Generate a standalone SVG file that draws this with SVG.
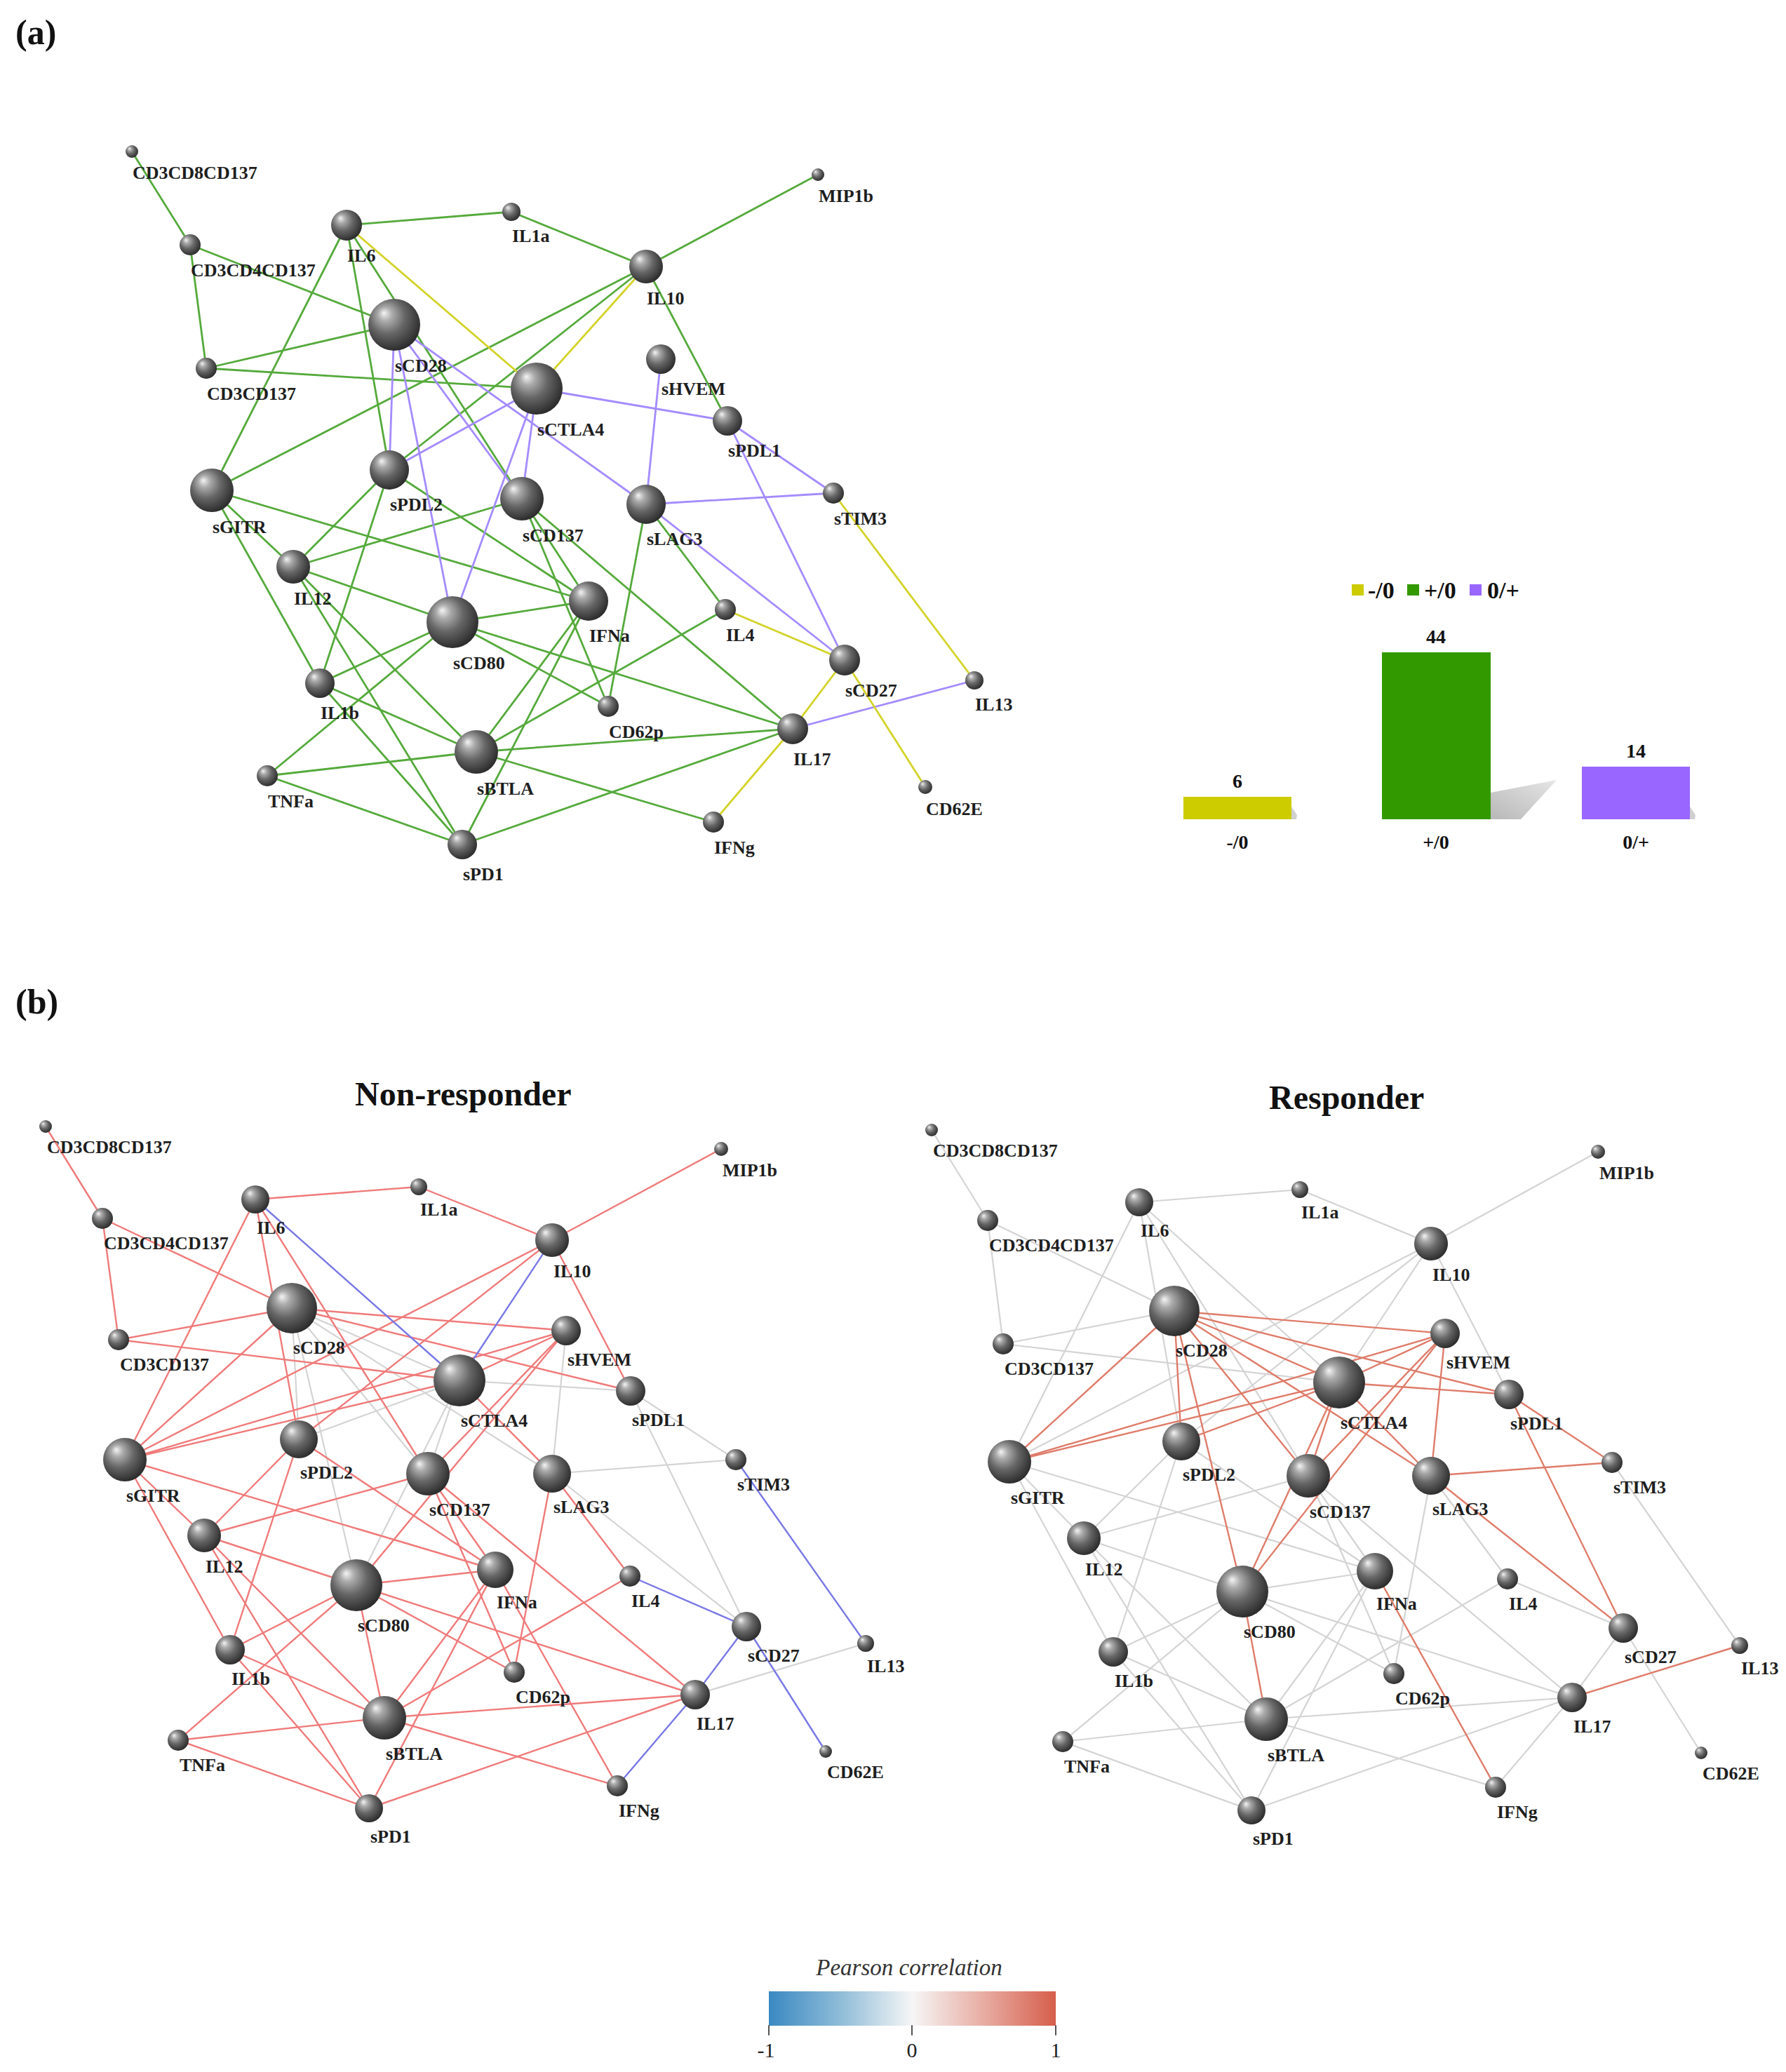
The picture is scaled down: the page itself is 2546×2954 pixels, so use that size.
<svg xmlns="http://www.w3.org/2000/svg" width="2546" height="2954" viewBox="0 0 2546 2954">
<defs>
<radialGradient id="sph" cx="0.42" cy="0.4" r="0.62" fx="0.3" fy="0.27">
<stop offset="0" stop-color="#f4f4f4"/><stop offset="0.22" stop-color="#ababab"/><stop offset="0.55" stop-color="#666"/><stop offset="1" stop-color="#2a2a2a"/>
</radialGradient>
<linearGradient id="cbar" x1="0" y1="0" x2="1" y2="0">
<stop offset="0" stop-color="#3a89c2"/><stop offset="0.25" stop-color="#8fbcd8"/><stop offset="0.5" stop-color="#f6f6f6"/><stop offset="0.75" stop-color="#e8aca2"/><stop offset="1" stop-color="#d65e4b"/>
</linearGradient>
<linearGradient id="shd" x1="0" y1="1" x2="1" y2="0">
<stop offset="0" stop-color="#b8b8b8"/><stop offset="1" stop-color="#e6e6e6"/>
</linearGradient>
<style>
line{fill:none;stroke-linecap:round}
.ga{stroke:#55aa3c;stroke-width:2.8}
.ya{stroke:#d3d32a;stroke-width:2.8}
.pa{stroke:#a58bff;stroke-width:2.8}
.rn{stroke:#f07a7a;stroke-width:2.4}
.bn{stroke:#7878e6;stroke-width:2.4}
.gr{stroke:#d4d4d4;stroke-width:2.2}
.rr{stroke:#df7c6a;stroke-width:2.4}
.nd{fill:url(#sph)}
.lb{font-family:"Liberation Serif","Times New Roman",serif;font-weight:bold;font-size:26px;fill:#1e1e1e}
.pl{font-family:"Liberation Serif","Times New Roman",serif;font-weight:bold;font-size:50px;fill:#111}
.tt{font-family:"Liberation Serif","Times New Roman",serif;font-weight:bold;font-size:48px;fill:#111}
.bv{font-family:"Liberation Serif","Times New Roman",serif;font-weight:bold;font-size:28px;fill:#111;text-anchor:middle}
.lg{font-family:"Liberation Serif","Times New Roman",serif;font-weight:bold;font-size:34px;fill:#111}
.cb{font-family:"Liberation Serif","Times New Roman",serif;font-size:30px;fill:#222;text-anchor:middle}
</style>
</defs>
<rect width="2546" height="2954" fill="#fff"/>
<text class="pl" x="22" y="63">(a)</text>
<text class="pl" x="22" y="1445">(b)</text>

<!-- Panel (a) connectors -->
<g id="a-edges">
<line class="ga" x1="188" y1="216" x2="271" y2="349"/>
<line class="ga" x1="271" y1="349" x2="294" y2="525"/>
<line class="ga" x1="271" y1="349" x2="562" y2="463"/>
<line class="ga" x1="294" y1="525" x2="562" y2="463"/>
<line class="ga" x1="294" y1="525" x2="765" y2="554"/>
<line class="ga" x1="494" y1="321" x2="729" y2="302"/>
<line class="ga" x1="729" y1="302" x2="921" y2="380"/>
<line class="ga" x1="921" y1="380" x2="1166" y2="249"/>
<line class="ga" x1="921" y1="380" x2="1037" y2="600"/>
<line class="ga" x1="921" y1="380" x2="302" y2="699"/>
<line class="ga" x1="921" y1="380" x2="555" y2="670"/>
<line class="ga" x1="494" y1="321" x2="302" y2="699"/>
<line class="ga" x1="494" y1="321" x2="555" y2="670"/>
<line class="ga" x1="494" y1="321" x2="744" y2="711"/>
<line class="ga" x1="302" y1="699" x2="418" y2="808"/>
<line class="ga" x1="302" y1="699" x2="456" y2="974"/>
<line class="ga" x1="302" y1="699" x2="839" y2="857"/>
<line class="ga" x1="555" y1="670" x2="418" y2="808"/>
<line class="ga" x1="555" y1="670" x2="456" y2="974"/>
<line class="ga" x1="555" y1="670" x2="839" y2="857"/>
<line class="ga" x1="744" y1="711" x2="418" y2="808"/>
<line class="ga" x1="418" y1="808" x2="645" y2="887"/>
<line class="ga" x1="418" y1="808" x2="679" y2="1072"/>
<line class="ga" x1="418" y1="808" x2="659" y2="1204"/>
<line class="ga" x1="456" y1="974" x2="645" y2="887"/>
<line class="ga" x1="456" y1="974" x2="679" y2="1072"/>
<line class="ga" x1="456" y1="974" x2="659" y2="1204"/>
<line class="ga" x1="381" y1="1106" x2="645" y2="887"/>
<line class="ga" x1="381" y1="1106" x2="679" y2="1072"/>
<line class="ga" x1="381" y1="1106" x2="659" y2="1204"/>
<line class="ga" x1="645" y1="887" x2="839" y2="857"/>
<line class="ga" x1="645" y1="887" x2="1130" y2="1039"/>
<line class="ga" x1="645" y1="887" x2="867" y2="1007"/>
<line class="ga" x1="679" y1="1072" x2="1130" y2="1039"/>
<line class="ga" x1="679" y1="1072" x2="1017" y2="1172"/>
<line class="ga" x1="659" y1="1204" x2="1130" y2="1039"/>
<line class="ga" x1="659" y1="1204" x2="839" y2="857"/>
<line class="ga" x1="679" y1="1072" x2="839" y2="857"/>
<line class="ga" x1="679" y1="1072" x2="1034" y2="869"/>
<line class="ga" x1="921" y1="719" x2="1034" y2="869"/>
<line class="ga" x1="921" y1="719" x2="867" y2="1007"/>
<line class="ga" x1="744" y1="711" x2="1130" y2="1039"/>
<line class="ga" x1="744" y1="711" x2="867" y2="1007"/>
<line class="ga" x1="744" y1="711" x2="839" y2="857"/>
<line class="pa" x1="562" y1="463" x2="555" y2="670"/>
<line class="pa" x1="562" y1="463" x2="645" y2="887"/>
<line class="pa" x1="562" y1="463" x2="744" y2="711"/>
<line class="pa" x1="562" y1="463" x2="921" y2="719"/>
<line class="pa" x1="765" y1="554" x2="555" y2="670"/>
<line class="pa" x1="765" y1="554" x2="645" y2="887"/>
<line class="pa" x1="765" y1="554" x2="744" y2="711"/>
<line class="pa" x1="765" y1="554" x2="1037" y2="600"/>
<line class="pa" x1="942" y1="512" x2="921" y2="719"/>
<line class="pa" x1="921" y1="719" x2="1188" y2="703"/>
<line class="pa" x1="1037" y1="600" x2="1188" y2="703"/>
<line class="pa" x1="1037" y1="600" x2="1204" y2="941"/>
<line class="pa" x1="921" y1="719" x2="1204" y2="941"/>
<line class="pa" x1="1130" y1="1039" x2="1389" y2="970"/>
<line class="ya" x1="494" y1="321" x2="765" y2="554"/>
<line class="ya" x1="921" y1="380" x2="765" y2="554"/>
<line class="ya" x1="1188" y1="703" x2="1389" y2="970"/>
<line class="ya" x1="1034" y1="869" x2="1204" y2="941"/>
<line class="ya" x1="1204" y1="941" x2="1130" y2="1039"/>
<line class="ya" x1="1204" y1="941" x2="1319" y2="1122"/>
<line class="ya" x1="1130" y1="1039" x2="1017" y2="1172"/>
</g>

<!-- Panel (a) nodes -->
<g id="a-CD3CD8CD137"><circle class="nd" cx="188" cy="216" r="9"/><text class="lb" x="189" y="255">CD3CD8CD137</text></g>
<g id="a-CD3CD4CD137"><circle class="nd" cx="271" cy="349" r="15"/><text class="lb" x="272" y="394">CD3CD4CD137</text></g>
<g id="a-IL6"><circle class="nd" cx="494" cy="321" r="22"/><text class="lb" x="495" y="373">IL6</text></g>
<g id="a-IL1a"><circle class="nd" cx="729" cy="302" r="13"/><text class="lb" x="730" y="345">IL1a</text></g>
<g id="a-IL10"><circle class="nd" cx="921" cy="380" r="24"/><text class="lb" x="922" y="434">IL10</text></g>
<g id="a-MIP1b"><circle class="nd" cx="1166" cy="249" r="9"/><text class="lb" x="1167" y="288">MIP1b</text></g>
<g id="a-sCD28"><circle class="nd" cx="562" cy="463" r="37"/><text class="lb" x="563" y="530">sCD28</text></g>
<g id="a-CD3CD137"><circle class="nd" cx="294" cy="525" r="15"/><text class="lb" x="295" y="570">CD3CD137</text></g>
<g id="a-sHVEM"><circle class="nd" cx="942" cy="512" r="21"/><text class="lb" x="943" y="563">sHVEM</text></g>
<g id="a-sCTLA4"><circle class="nd" cx="765" cy="554" r="37"/><text class="lb" x="766" y="621">sCTLA4</text></g>
<g id="a-sPDL1"><circle class="nd" cx="1037" cy="600" r="21"/><text class="lb" x="1038" y="651">sPDL1</text></g>
<g id="a-sGITR"><circle class="nd" cx="302" cy="699" r="31"/><text class="lb" x="303" y="760">sGITR</text></g>
<g id="a-sPDL2"><circle class="nd" cx="555" cy="670" r="28"/><text class="lb" x="556" y="728">sPDL2</text></g>
<g id="a-sCD137"><circle class="nd" cx="744" cy="711" r="31"/><text class="lb" x="745" y="772">sCD137</text></g>
<g id="a-sLAG3"><circle class="nd" cx="921" cy="719" r="28"/><text class="lb" x="922" y="777">sLAG3</text></g>
<g id="a-sTIM3"><circle class="nd" cx="1188" cy="703" r="15"/><text class="lb" x="1189" y="748">sTIM3</text></g>
<g id="a-IL12"><circle class="nd" cx="418" cy="808" r="24"/><text class="lb" x="419" y="862">IL12</text></g>
<g id="a-sCD80"><circle class="nd" cx="645" cy="887" r="37"/><text class="lb" x="646" y="954">sCD80</text></g>
<g id="a-IFNa"><circle class="nd" cx="839" cy="857" r="28"/><text class="lb" x="840" y="915">IFNa</text></g>
<g id="a-IL4"><circle class="nd" cx="1034" cy="869" r="15"/><text class="lb" x="1035" y="914">IL4</text></g>
<g id="a-sCD27"><circle class="nd" cx="1204" cy="941" r="22"/><text class="lb" x="1205" y="993">sCD27</text></g>
<g id="a-IL13"><circle class="nd" cx="1389" cy="970" r="13"/><text class="lb" x="1390" y="1013">IL13</text></g>
<g id="a-IL1b"><circle class="nd" cx="456" cy="974" r="21"/><text class="lb" x="457" y="1025">IL1b</text></g>
<g id="a-CD62p"><circle class="nd" cx="867" cy="1007" r="15"/><text class="lb" x="868" y="1052">CD62p</text></g>
<g id="a-IL17"><circle class="nd" cx="1130" cy="1039" r="22"/><text class="lb" x="1131" y="1091">IL17</text></g>
<g id="a-TNFa"><circle class="nd" cx="381" cy="1106" r="15"/><text class="lb" x="382" y="1151">TNFa</text></g>
<g id="a-sBTLA"><circle class="nd" cx="679" cy="1072" r="31"/><text class="lb" x="680" y="1133">sBTLA</text></g>
<g id="a-IFNg"><circle class="nd" cx="1017" cy="1172" r="15"/><text class="lb" x="1018" y="1217">IFNg</text></g>
<g id="a-sPD1"><circle class="nd" cx="659" cy="1204" r="21"/><text class="lb" x="660" y="1255">sPD1</text></g>
<g id="a-CD62E"><circle class="nd" cx="1319" cy="1122" r="10"/><text class="lb" x="1320" y="1162">CD62E</text></g>

<!-- Panel (a) bar chart -->
<g id="a-legend">
<rect x="1927" y="833" width="17" height="16" fill="#cccc00"/><text class="lg" x="1950" y="853">-/0</text>
<rect x="2006" y="833" width="17" height="16" fill="#339900"/><text class="lg" x="2030" y="853">+/0</text>
<rect x="2095" y="833" width="17" height="16" fill="#9966ff"/><text class="lg" x="2120" y="853">0/+</text>
</g>
<g id="a-bars">
<polygon points="2125,1168 2125,1130 2219,1112 2168,1168" fill="url(#shd)"/>
<polygon points="1841,1168 1841,1150 1849,1162 1848,1168" fill="#d0d0d0"/>
<polygon points="2409,1168 2409,1150 2417,1162 2416,1168" fill="#d0d0d0"/>
<rect x="1687" y="1136" width="154" height="32" fill="#cccc00"/>
<rect x="1970" y="930" width="155" height="238" fill="#339900"/>
<rect x="2255" y="1093" width="154" height="75" fill="#9966ff"/>
<text class="bv" x="1764" y="1123">6</text>
<text class="bv" x="2047" y="917">44</text>
<text class="bv" x="2332" y="1080">14</text>
<text class="bv" x="1764" y="1210">-/0</text>
<text class="bv" x="2047" y="1210">+/0</text>
<text class="bv" x="2332" y="1210">0/+</text>
</g>

<!-- Panel (b) titles -->
<text class="tt" x="506" y="1576">Non-responder</text>
<text class="tt" x="1809" y="1581">Responder</text>

<!-- Panel (b) Non-responder connectors -->
<g id="nr-edges">
<line class="gr" x1="416" y1="1865" x2="426" y2="2052"/>
<line class="gr" x1="416" y1="1865" x2="508" y2="2260"/>
<line class="gr" x1="416" y1="1865" x2="610" y2="2101"/>
<line class="gr" x1="416" y1="1865" x2="787" y2="2101"/>
<line class="gr" x1="655" y1="1968" x2="426" y2="2052"/>
<line class="gr" x1="655" y1="1968" x2="508" y2="2260"/>
<line class="gr" x1="655" y1="1968" x2="610" y2="2101"/>
<line class="gr" x1="655" y1="1968" x2="899" y2="1983"/>
<line class="gr" x1="807" y1="1897" x2="787" y2="2101"/>
<line class="gr" x1="787" y1="2101" x2="1049" y2="2081"/>
<line class="gr" x1="899" y1="1983" x2="1049" y2="2081"/>
<line class="gr" x1="899" y1="1983" x2="1064" y2="2319"/>
<line class="gr" x1="787" y1="2101" x2="1064" y2="2319"/>
<line class="gr" x1="991" y1="2416" x2="1234" y2="2343"/>
<line class="gr" x1="416" y1="1865" x2="655" y2="1968"/>
<line class="rn" x1="65" y1="1606" x2="146" y2="1737"/>
<line class="rn" x1="146" y1="1737" x2="169" y2="1910"/>
<line class="rn" x1="146" y1="1737" x2="416" y2="1865"/>
<line class="rn" x1="169" y1="1910" x2="416" y2="1865"/>
<line class="rn" x1="169" y1="1910" x2="655" y2="1968"/>
<line class="rn" x1="364" y1="1710" x2="597" y2="1692"/>
<line class="rn" x1="597" y1="1692" x2="787" y2="1768"/>
<line class="rn" x1="787" y1="1768" x2="1028" y2="1638"/>
<line class="rn" x1="787" y1="1768" x2="899" y2="1983"/>
<line class="rn" x1="787" y1="1768" x2="178" y2="2081"/>
<line class="rn" x1="787" y1="1768" x2="426" y2="2052"/>
<line class="rn" x1="364" y1="1710" x2="178" y2="2081"/>
<line class="rn" x1="364" y1="1710" x2="426" y2="2052"/>
<line class="rn" x1="364" y1="1710" x2="610" y2="2101"/>
<line class="rn" x1="178" y1="2081" x2="291" y2="2189"/>
<line class="rn" x1="178" y1="2081" x2="328" y2="2352"/>
<line class="rn" x1="178" y1="2081" x2="706" y2="2238"/>
<line class="rn" x1="426" y1="2052" x2="291" y2="2189"/>
<line class="rn" x1="426" y1="2052" x2="328" y2="2352"/>
<line class="rn" x1="426" y1="2052" x2="706" y2="2238"/>
<line class="rn" x1="610" y1="2101" x2="291" y2="2189"/>
<line class="rn" x1="291" y1="2189" x2="508" y2="2260"/>
<line class="rn" x1="291" y1="2189" x2="548" y2="2449"/>
<line class="rn" x1="291" y1="2189" x2="526" y2="2578"/>
<line class="rn" x1="328" y1="2352" x2="508" y2="2260"/>
<line class="rn" x1="328" y1="2352" x2="548" y2="2449"/>
<line class="rn" x1="328" y1="2352" x2="526" y2="2578"/>
<line class="rn" x1="254" y1="2481" x2="508" y2="2260"/>
<line class="rn" x1="254" y1="2481" x2="548" y2="2449"/>
<line class="rn" x1="254" y1="2481" x2="526" y2="2578"/>
<line class="rn" x1="508" y1="2260" x2="706" y2="2238"/>
<line class="rn" x1="508" y1="2260" x2="991" y2="2416"/>
<line class="rn" x1="508" y1="2260" x2="733" y2="2384"/>
<line class="rn" x1="548" y1="2449" x2="991" y2="2416"/>
<line class="rn" x1="548" y1="2449" x2="880" y2="2546"/>
<line class="rn" x1="526" y1="2578" x2="991" y2="2416"/>
<line class="rn" x1="526" y1="2578" x2="706" y2="2238"/>
<line class="rn" x1="548" y1="2449" x2="706" y2="2238"/>
<line class="rn" x1="548" y1="2449" x2="898" y2="2247"/>
<line class="rn" x1="787" y1="2101" x2="898" y2="2247"/>
<line class="rn" x1="787" y1="2101" x2="733" y2="2384"/>
<line class="rn" x1="610" y1="2101" x2="991" y2="2416"/>
<line class="rn" x1="610" y1="2101" x2="733" y2="2384"/>
<line class="rn" x1="610" y1="2101" x2="706" y2="2238"/>
<line class="rn" x1="178" y1="2081" x2="416" y2="1865"/>
<line class="rn" x1="178" y1="2081" x2="807" y2="1897"/>
<line class="rn" x1="178" y1="2081" x2="655" y2="1968"/>
<line class="rn" x1="416" y1="1865" x2="807" y2="1897"/>
<line class="rn" x1="416" y1="1865" x2="899" y2="1983"/>
<line class="rn" x1="655" y1="1968" x2="807" y2="1897"/>
<line class="rn" x1="610" y1="2101" x2="807" y2="1897"/>
<line class="rn" x1="508" y1="2260" x2="807" y2="1897"/>
<line class="rn" x1="508" y1="2260" x2="548" y2="2449"/>
<line class="rn" x1="706" y1="2238" x2="880" y2="2546"/>
<line class="rn" x1="655" y1="1968" x2="787" y2="2101"/>
<line class="bn" x1="364" y1="1710" x2="655" y2="1968"/>
<line class="bn" x1="787" y1="1768" x2="655" y2="1968"/>
<line class="bn" x1="1049" y1="2081" x2="1234" y2="2343"/>
<line class="bn" x1="898" y1="2247" x2="1064" y2="2319"/>
<line class="bn" x1="1064" y1="2319" x2="991" y2="2416"/>
<line class="bn" x1="1064" y1="2319" x2="1177" y2="2497"/>
<line class="bn" x1="991" y1="2416" x2="880" y2="2546"/>
</g>

<!-- Panel (b) Non-responder nodes -->
<g id="nr-CD3CD8CD137"><circle class="nd" cx="65" cy="1606" r="9"/><text class="lb" x="67" y="1644">CD3CD8CD137</text></g>
<g id="nr-CD3CD4CD137"><circle class="nd" cx="146" cy="1737" r="15"/><text class="lb" x="148" y="1781">CD3CD4CD137</text></g>
<g id="nr-IL6"><circle class="nd" cx="364" cy="1710" r="20"/><text class="lb" x="366" y="1759">IL6</text></g>
<g id="nr-IL1a"><circle class="nd" cx="597" cy="1692" r="12"/><text class="lb" x="599" y="1733">IL1a</text></g>
<g id="nr-IL10"><circle class="nd" cx="787" cy="1768" r="24"/><text class="lb" x="789" y="1821">IL10</text></g>
<g id="nr-MIP1b"><circle class="nd" cx="1028" cy="1638" r="10"/><text class="lb" x="1030" y="1677">MIP1b</text></g>
<g id="nr-sCD28"><circle class="nd" cx="416" cy="1865" r="36"/><text class="lb" x="418" y="1930">sCD28</text></g>
<g id="nr-CD3CD137"><circle class="nd" cx="169" cy="1910" r="15"/><text class="lb" x="171" y="1954">CD3CD137</text></g>
<g id="nr-sHVEM"><circle class="nd" cx="807" cy="1897" r="21"/><text class="lb" x="809" y="1947">sHVEM</text></g>
<g id="nr-sCTLA4"><circle class="nd" cx="655" cy="1968" r="37"/><text class="lb" x="657" y="2034">sCTLA4</text></g>
<g id="nr-sPDL1"><circle class="nd" cx="899" cy="1983" r="21"/><text class="lb" x="901" y="2033">sPDL1</text></g>
<g id="nr-sGITR"><circle class="nd" cx="178" cy="2081" r="31"/><text class="lb" x="180" y="2141">sGITR</text></g>
<g id="nr-sPDL2"><circle class="nd" cx="426" cy="2052" r="27"/><text class="lb" x="428" y="2108">sPDL2</text></g>
<g id="nr-sCD137"><circle class="nd" cx="610" cy="2101" r="31"/><text class="lb" x="612" y="2161">sCD137</text></g>
<g id="nr-sLAG3"><circle class="nd" cx="787" cy="2101" r="27"/><text class="lb" x="789" y="2157">sLAG3</text></g>
<g id="nr-sTIM3"><circle class="nd" cx="1049" cy="2081" r="15"/><text class="lb" x="1051" y="2125">sTIM3</text></g>
<g id="nr-IL12"><circle class="nd" cx="291" cy="2189" r="24"/><text class="lb" x="293" y="2242">IL12</text></g>
<g id="nr-sCD80"><circle class="nd" cx="508" cy="2260" r="37"/><text class="lb" x="510" y="2326">sCD80</text></g>
<g id="nr-IFNa"><circle class="nd" cx="706" cy="2238" r="26"/><text class="lb" x="708" y="2293">IFNa</text></g>
<g id="nr-IL4"><circle class="nd" cx="898" cy="2247" r="15"/><text class="lb" x="900" y="2291">IL4</text></g>
<g id="nr-sCD27"><circle class="nd" cx="1064" cy="2319" r="21"/><text class="lb" x="1066" y="2369">sCD27</text></g>
<g id="nr-IL13"><circle class="nd" cx="1234" cy="2343" r="12"/><text class="lb" x="1236" y="2384">IL13</text></g>
<g id="nr-IL1b"><circle class="nd" cx="328" cy="2352" r="21"/><text class="lb" x="330" y="2402">IL1b</text></g>
<g id="nr-CD62p"><circle class="nd" cx="733" cy="2384" r="15"/><text class="lb" x="735" y="2428">CD62p</text></g>
<g id="nr-IL17"><circle class="nd" cx="991" cy="2416" r="21"/><text class="lb" x="993" y="2466">IL17</text></g>
<g id="nr-TNFa"><circle class="nd" cx="254" cy="2481" r="15"/><text class="lb" x="256" y="2525">TNFa</text></g>
<g id="nr-sBTLA"><circle class="nd" cx="548" cy="2449" r="31"/><text class="lb" x="550" y="2509">sBTLA</text></g>
<g id="nr-IFNg"><circle class="nd" cx="880" cy="2546" r="15"/><text class="lb" x="882" y="2590">IFNg</text></g>
<g id="nr-sPD1"><circle class="nd" cx="526" cy="2578" r="20"/><text class="lb" x="528" y="2627">sPD1</text></g>
<g id="nr-CD62E"><circle class="nd" cx="1177" cy="2497" r="9"/><text class="lb" x="1179" y="2535">CD62E</text></g>

<!-- Panel (b) Responder connectors -->
<g id="r-edges">
<line class="gr" x1="1328" y1="1611" x2="1408" y2="1740"/>
<line class="gr" x1="1408" y1="1740" x2="1430" y2="1916"/>
<line class="gr" x1="1408" y1="1740" x2="1674" y2="1869"/>
<line class="gr" x1="1430" y1="1916" x2="1674" y2="1869"/>
<line class="gr" x1="1430" y1="1916" x2="1909" y2="1971"/>
<line class="gr" x1="1624" y1="1714" x2="1853" y2="1696"/>
<line class="gr" x1="1853" y1="1696" x2="2040" y2="1773"/>
<line class="gr" x1="2040" y1="1773" x2="2278" y2="1642"/>
<line class="gr" x1="2040" y1="1773" x2="2151" y2="1988"/>
<line class="gr" x1="2040" y1="1773" x2="1439" y2="2084"/>
<line class="gr" x1="2040" y1="1773" x2="1684" y2="2055"/>
<line class="gr" x1="1624" y1="1714" x2="1439" y2="2084"/>
<line class="gr" x1="1624" y1="1714" x2="1684" y2="2055"/>
<line class="gr" x1="1624" y1="1714" x2="1865" y2="2104"/>
<line class="gr" x1="1439" y1="2084" x2="1545" y2="2193"/>
<line class="gr" x1="1439" y1="2084" x2="1587" y2="2355"/>
<line class="gr" x1="1439" y1="2084" x2="1960" y2="2240"/>
<line class="gr" x1="1684" y1="2055" x2="1545" y2="2193"/>
<line class="gr" x1="1684" y1="2055" x2="1587" y2="2355"/>
<line class="gr" x1="1684" y1="2055" x2="1960" y2="2240"/>
<line class="gr" x1="1865" y1="2104" x2="1545" y2="2193"/>
<line class="gr" x1="1545" y1="2193" x2="1771" y2="2269"/>
<line class="gr" x1="1545" y1="2193" x2="1805" y2="2451"/>
<line class="gr" x1="1545" y1="2193" x2="1784" y2="2581"/>
<line class="gr" x1="1587" y1="2355" x2="1771" y2="2269"/>
<line class="gr" x1="1587" y1="2355" x2="1805" y2="2451"/>
<line class="gr" x1="1587" y1="2355" x2="1784" y2="2581"/>
<line class="gr" x1="1515" y1="2483" x2="1771" y2="2269"/>
<line class="gr" x1="1515" y1="2483" x2="1805" y2="2451"/>
<line class="gr" x1="1515" y1="2483" x2="1784" y2="2581"/>
<line class="gr" x1="1771" y1="2269" x2="1960" y2="2240"/>
<line class="gr" x1="1771" y1="2269" x2="2241" y2="2420"/>
<line class="gr" x1="1771" y1="2269" x2="1987" y2="2386"/>
<line class="gr" x1="1805" y1="2451" x2="2241" y2="2420"/>
<line class="gr" x1="1805" y1="2451" x2="2132" y2="2548"/>
<line class="gr" x1="1784" y1="2581" x2="2241" y2="2420"/>
<line class="gr" x1="1784" y1="2581" x2="1960" y2="2240"/>
<line class="gr" x1="1805" y1="2451" x2="1960" y2="2240"/>
<line class="gr" x1="1805" y1="2451" x2="2149" y2="2251"/>
<line class="gr" x1="2040" y1="2104" x2="2149" y2="2251"/>
<line class="gr" x1="2040" y1="2104" x2="1987" y2="2386"/>
<line class="gr" x1="1865" y1="2104" x2="2241" y2="2420"/>
<line class="gr" x1="1865" y1="2104" x2="1987" y2="2386"/>
<line class="gr" x1="1865" y1="2104" x2="1960" y2="2240"/>
<line class="gr" x1="1624" y1="1714" x2="1909" y2="1971"/>
<line class="gr" x1="2040" y1="1773" x2="1909" y2="1971"/>
<line class="gr" x1="2298" y1="2085" x2="2480" y2="2346"/>
<line class="gr" x1="2149" y1="2251" x2="2314" y2="2321"/>
<line class="gr" x1="2314" y1="2321" x2="2241" y2="2420"/>
<line class="gr" x1="2314" y1="2321" x2="2425" y2="2499"/>
<line class="gr" x1="2241" y1="2420" x2="2132" y2="2548"/>
<line class="rr" x1="1674" y1="1869" x2="1684" y2="2055"/>
<line class="rr" x1="1674" y1="1869" x2="1771" y2="2269"/>
<line class="rr" x1="1674" y1="1869" x2="1865" y2="2104"/>
<line class="rr" x1="1674" y1="1869" x2="2040" y2="2104"/>
<line class="rr" x1="1909" y1="1971" x2="1684" y2="2055"/>
<line class="rr" x1="1909" y1="1971" x2="1771" y2="2269"/>
<line class="rr" x1="1909" y1="1971" x2="1865" y2="2104"/>
<line class="rr" x1="1909" y1="1971" x2="2151" y2="1988"/>
<line class="rr" x1="2060" y1="1901" x2="2040" y2="2104"/>
<line class="rr" x1="2040" y1="2104" x2="2298" y2="2085"/>
<line class="rr" x1="2151" y1="1988" x2="2298" y2="2085"/>
<line class="rr" x1="2151" y1="1988" x2="2314" y2="2321"/>
<line class="rr" x1="2040" y1="2104" x2="2314" y2="2321"/>
<line class="rr" x1="2241" y1="2420" x2="2480" y2="2346"/>
<line class="rr" x1="1674" y1="1869" x2="1909" y2="1971"/>
<line class="rr" x1="1439" y1="2084" x2="1674" y2="1869"/>
<line class="rr" x1="1439" y1="2084" x2="2060" y2="1901"/>
<line class="rr" x1="1439" y1="2084" x2="1909" y2="1971"/>
<line class="rr" x1="1674" y1="1869" x2="2060" y2="1901"/>
<line class="rr" x1="1674" y1="1869" x2="2151" y2="1988"/>
<line class="rr" x1="1909" y1="1971" x2="2060" y2="1901"/>
<line class="rr" x1="1865" y1="2104" x2="2060" y2="1901"/>
<line class="rr" x1="1771" y1="2269" x2="2060" y2="1901"/>
<line class="rr" x1="1771" y1="2269" x2="1805" y2="2451"/>
<line class="rr" x1="1960" y1="2240" x2="2132" y2="2548"/>
<line class="rr" x1="1909" y1="1971" x2="2040" y2="2104"/>
</g>

<!-- Panel (b) Responder nodes -->
<g id="r-CD3CD8CD137"><circle class="nd" cx="1328" cy="1611" r="9"/><text class="lb" x="1330" y="1649">CD3CD8CD137</text></g>
<g id="r-CD3CD4CD137"><circle class="nd" cx="1408" cy="1740" r="15"/><text class="lb" x="1410" y="1784">CD3CD4CD137</text></g>
<g id="r-IL6"><circle class="nd" cx="1624" cy="1714" r="20"/><text class="lb" x="1626" y="1763">IL6</text></g>
<g id="r-IL1a"><circle class="nd" cx="1853" cy="1696" r="12"/><text class="lb" x="1855" y="1737">IL1a</text></g>
<g id="r-IL10"><circle class="nd" cx="2040" cy="1773" r="24"/><text class="lb" x="2042" y="1826">IL10</text></g>
<g id="r-MIP1b"><circle class="nd" cx="2278" cy="1642" r="10"/><text class="lb" x="2280" y="1681">MIP1b</text></g>
<g id="r-sCD28"><circle class="nd" cx="1674" cy="1869" r="36"/><text class="lb" x="1676" y="1934">sCD28</text></g>
<g id="r-CD3CD137"><circle class="nd" cx="1430" cy="1916" r="15"/><text class="lb" x="1432" y="1960">CD3CD137</text></g>
<g id="r-sHVEM"><circle class="nd" cx="2060" cy="1901" r="21"/><text class="lb" x="2062" y="1951">sHVEM</text></g>
<g id="r-sCTLA4"><circle class="nd" cx="1909" cy="1971" r="37"/><text class="lb" x="1911" y="2037">sCTLA4</text></g>
<g id="r-sPDL1"><circle class="nd" cx="2151" cy="1988" r="21"/><text class="lb" x="2153" y="2038">sPDL1</text></g>
<g id="r-sGITR"><circle class="nd" cx="1439" cy="2084" r="31"/><text class="lb" x="1441" y="2144">sGITR</text></g>
<g id="r-sPDL2"><circle class="nd" cx="1684" cy="2055" r="27"/><text class="lb" x="1686" y="2111">sPDL2</text></g>
<g id="r-sCD137"><circle class="nd" cx="1865" cy="2104" r="31"/><text class="lb" x="1867" y="2164">sCD137</text></g>
<g id="r-sLAG3"><circle class="nd" cx="2040" cy="2104" r="27"/><text class="lb" x="2042" y="2160">sLAG3</text></g>
<g id="r-sTIM3"><circle class="nd" cx="2298" cy="2085" r="15"/><text class="lb" x="2300" y="2129">sTIM3</text></g>
<g id="r-IL12"><circle class="nd" cx="1545" cy="2193" r="24"/><text class="lb" x="1547" y="2246">IL12</text></g>
<g id="r-sCD80"><circle class="nd" cx="1771" cy="2269" r="37"/><text class="lb" x="1773" y="2335">sCD80</text></g>
<g id="r-IFNa"><circle class="nd" cx="1960" cy="2240" r="26"/><text class="lb" x="1962" y="2295">IFNa</text></g>
<g id="r-IL4"><circle class="nd" cx="2149" cy="2251" r="15"/><text class="lb" x="2151" y="2295">IL4</text></g>
<g id="r-sCD27"><circle class="nd" cx="2314" cy="2321" r="21"/><text class="lb" x="2316" y="2371">sCD27</text></g>
<g id="r-IL13"><circle class="nd" cx="2480" cy="2346" r="12"/><text class="lb" x="2482" y="2387">IL13</text></g>
<g id="r-IL1b"><circle class="nd" cx="1587" cy="2355" r="21"/><text class="lb" x="1589" y="2405">IL1b</text></g>
<g id="r-CD62p"><circle class="nd" cx="1987" cy="2386" r="15"/><text class="lb" x="1989" y="2430">CD62p</text></g>
<g id="r-IL17"><circle class="nd" cx="2241" cy="2420" r="21"/><text class="lb" x="2243" y="2470">IL17</text></g>
<g id="r-TNFa"><circle class="nd" cx="1515" cy="2483" r="15"/><text class="lb" x="1517" y="2527">TNFa</text></g>
<g id="r-sBTLA"><circle class="nd" cx="1805" cy="2451" r="31"/><text class="lb" x="1807" y="2511">sBTLA</text></g>
<g id="r-IFNg"><circle class="nd" cx="2132" cy="2548" r="15"/><text class="lb" x="2134" y="2592">IFNg</text></g>
<g id="r-sPD1"><circle class="nd" cx="1784" cy="2581" r="20"/><text class="lb" x="1786" y="2630">sPD1</text></g>
<g id="r-CD62E"><circle class="nd" cx="2425" cy="2499" r="9"/><text class="lb" x="2427" y="2537">CD62E</text></g>

<!-- Colour bar -->
<g id="colorbar">
<text x="1296" y="2816" text-anchor="middle" font-family="'Liberation Serif','Times New Roman',serif" font-style="italic" font-size="33" fill="#333">Pearson correlation</text>
<rect x="1096" y="2839" width="409" height="49" fill="url(#cbar)"/>
<line x1="1096" y1="2888" x2="1096" y2="2901" stroke="#555" stroke-width="2"/>
<line x1="1300" y1="2888" x2="1300" y2="2901" stroke="#555" stroke-width="2"/>
<line x1="1505" y1="2888" x2="1505" y2="2901" stroke="#555" stroke-width="2"/>
<text class="cb" x="1092" y="2933">-1</text>
<text class="cb" x="1300" y="2933">0</text>
<text class="cb" x="1505" y="2933">1</text>
</g>
</svg>
